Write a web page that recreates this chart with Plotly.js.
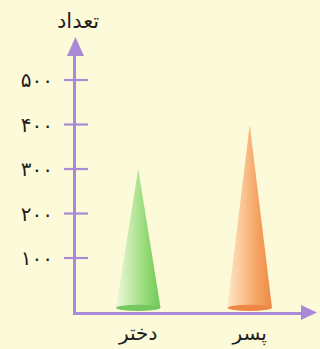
<!DOCTYPE html>
<html>
<head>
<meta charset="utf-8">
<script src="https://cdn.plot.ly/plotly-3.0.1.min.js"></script>
<style>
  html, body { margin: 0; padding: 0; background: #fdfad9; }
  #chart { width: 320px; height: 349px; }
</style>
</head>
<body>
<div id="chart"></div>
<script>
// data
var categories = ['دختر', 'پسر'];
var counts = [300, 400];
var tickVals = [100, 200, 300, 400, 500];
var tickText = ['۱۰۰', '۲۰۰', '۳۰۰', '۴۰۰', '۵۰۰'];
var yTitle = 'تعداد';

// style
var purple = '#a98ad6';
var bg = '#fdfad9';
var coneScales = [
  [[0, '#eef8dc'], [0.35, '#c2e9a7'], [0.7, '#90d871'], [1, '#72c75b']],
  [[0, '#fee6c4'], [0.35, '#fac594'], [0.7, '#f5a05e'], [1, '#eb8b48']]
];
var baseColors = ['#74c95e', '#ee8746'];
var halfWidth = 0.2;
var coneBase = -12;
var xRange = [-0.558, 1.469];
var yRange = [-21.3, 556.2];

var data = [];
var shapes = [];

counts.forEach(function (v, i) {
  data.push({
    x: [i - halfWidth, i, i + halfWidth],
    y: [coneBase, v, coneBase],
    type: 'scatter',
    mode: 'none',
    fill: 'toself',
    fillgradient: {type: 'horizontal', colorscale: coneScales[i]},
    hoverinfo: 'skip',
    showlegend: false
  });
  shapes.push({
    type: 'circle', xref: 'x', yref: 'y',
    x0: i - halfWidth, x1: i + halfWidth,
    y0: coneBase - 7, y1: coneBase + 7,
    fillcolor: baseColors[i], line: {width: 0}
  });
});

// cross ticks on the y axis
data.push({
  x: tickVals.map(function () { return xRange[0]; }),
  y: tickVals,
  type: 'scatter',
  mode: 'markers',
  marker: {symbol: 'line-ew', size: 17, line: {width: 2.2, color: purple}},
  cliponaxis: false,
  hoverinfo: 'skip',
  showlegend: false
});

// arrow heads
shapes.push({
  type: 'path', xref: 'paper', yref: 'paper',
  xsizemode: 'pixel', ysizemode: 'pixel', xanchor: 0, yanchor: 1,
  path: 'M-9,-1 L8,-1 L-0.5,18 Z',
  fillcolor: purple, line: {width: 0}
});
shapes.push({
  type: 'path', xref: 'paper', yref: 'paper',
  xsizemode: 'pixel', ysizemode: 'pixel', xanchor: 1, yanchor: 0,
  path: 'M-1,-8 L-1,7 L15,-0.5 Z',
  fillcolor: purple, line: {width: 0}
});

var layout = {
  width: 320,
  height: 349,
  margin: {l: 76, r: 18, t: 55, b: 37},
  paper_bgcolor: bg,
  plot_bgcolor: bg,
  font: {family: 'DejaVu Sans', color: '#1e1e1e'},
  xaxis: {
    range: xRange,
    tickvals: [0, 1],
    ticktext: categories,
    showline: true, linecolor: purple, linewidth: 3,
    showgrid: false, zeroline: false,
    ticks: 'outside', ticklen: 1, tickcolor: 'rgba(0,0,0,0)',
    tickfont: {size: 20}
  },
  yaxis: {
    range: yRange,
    tickvals: tickVals,
    ticktext: tickText,
    showline: true, linecolor: purple, linewidth: 3,
    showgrid: false, zeroline: false,
    ticks: 'outside', ticklen: 16, tickcolor: 'rgba(0,0,0,0)',
    tickfont: {size: 20}
  },
  shapes: shapes,
  annotations: [{
    text: yTitle, xref: 'paper', yref: 'paper', x: 0, y: 1,
    xshift: 2, yshift: 34, xanchor: 'center', yanchor: 'middle',
    showarrow: false, font: {size: 21}
  }]
};

Plotly.newPlot('chart', data, layout, {staticPlot: true});
</script>
</body>
</html>
